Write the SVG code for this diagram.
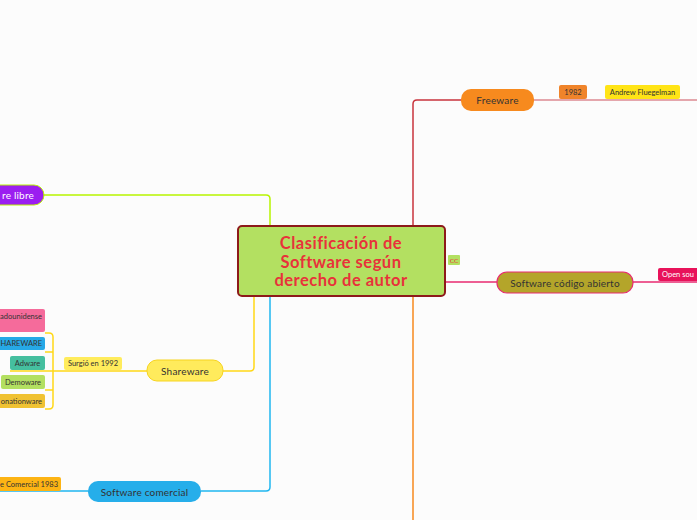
<svg xmlns="http://www.w3.org/2000/svg" width="697" height="520" viewBox="0 0 697 520">
<style>
.t{font-family:Lato,"Open Sans","Liberation Sans",sans-serif;fill:#333;text-anchor:middle;dominant-baseline:central}
.n{font-size:10px;letter-spacing:0.2px}
.s{font-size:7.5px}
.c{fill:none;stroke-width:1.5;stroke-linejoin:round}
.h{font-size:16.5px;font-weight:bold;fill:#e8323a;letter-spacing:0.5px}
</style>
<rect width="697" height="520" fill="#fcfcfc"/>
<g id="connectors">
<path class="c" stroke="#c8333c" d="M413 226 V104 Q413 100 417 100 H461"/>
<path class="c" stroke="#dc8a92" d="M534 100 H697"/>
<path class="c" stroke="#b7f400" d="M44 195 H266 Q270 195 270 199 V226"/>
<path class="c" stroke="#ffd817" d="M254 296 V367 Q254 371 250 371 H223"/>
<path class="c" stroke="#ffd817" d="M147 371 H10"/>
<path class="c" stroke="#ffd817" d="M45 333 H49 Q53 333 53 337 V405 Q53 409 49 409 H45"/>
<path class="c" stroke="#ffd817" d="M45 352 H53 M45 390 H53"/>
<path class="c" stroke="#1fb6f0" d="M270 296 V487 Q270 491 266 491 H201"/>
<path class="c" stroke="#1fb6f0" d="M88 491 H0"/>
<path class="c" stroke="#e82a70" d="M445 282 H497"/>
<path class="c" stroke="#e82a70" d="M633 282 H697"/>
<path class="c" stroke="#f78a1e" d="M413 296 V520"/>
</g>
<g id="central">
<rect x="238" y="226" width="207" height="70" rx="4" fill="#b3e061" stroke="#8d1a1a" stroke-width="2"/>
<text class="t h" x="341" y="243">Clasificación de</text>
<text class="t h" x="341" y="261.5">Software según</text>
<text class="t h" x="341" y="280">derecho de autor</text>
</g>
<g id="cc">
<rect x="448" y="255" width="12" height="10" rx="1" fill="#b3e061"/>
<text class="t" x="454" y="260" style="fill:#e8323a;font-size:6.5px">CC</text>
</g>
<g id="freeware">
<rect x="461" y="89" width="73" height="22" rx="10" fill="#f78a1e"/>
<text class="t n" x="497.5" y="100">Freeware</text>
</g>
<g id="l1982">
<rect x="559" y="85" width="28" height="14" rx="2" fill="#f0842a"/>
<text class="t s" x="573" y="92">1982</text>
</g>
<g id="andrew">
<rect x="605" y="85" width="75" height="14" rx="2" fill="#ffe416"/>
<text class="t s" x="642.5" y="92">Andrew Fluegelman</text>
</g>
<g id="libre">
<rect x="-60" y="185" width="104" height="20" rx="10" fill="#9b1ef0" stroke="#b7f400" stroke-width="1"/>
<text class="t n" x="34" y="195" style="fill:#fff;text-anchor:end">re libre</text>
</g>
<g id="codigo">
<rect x="497" y="272" width="136" height="21" rx="10" fill="#b4a52a" stroke="#e82a70" stroke-width="1.2"/>
<text class="t n" x="565" y="282.5">Software código abierto</text>
</g>
<g id="opensource">
<rect x="658" y="268" width="60" height="13" rx="2" fill="#e8125a"/>
<text class="t s" x="662" y="274.5" style="fill:#fff;text-anchor:start">Open sou</text>
</g>
<g id="shareware">
<rect x="147" y="360" width="76" height="21" rx="10" fill="#ffeb5c" stroke="#f7d41e" stroke-width="1"/>
<text class="t n" x="185" y="370.5">Shareware</text>
</g>
<g id="surgio">
<rect x="64" y="357" width="58" height="13" rx="2" fill="#ffec5c"/>
<text class="t s" x="93" y="363.5">Surgió en 1992</text>
</g>
<g id="estadounidense">
<rect x="-10" y="309" width="55" height="23" rx="2" fill="#f56b9b"/>
<text class="t s" x="42" y="316" style="text-anchor:end">adounidense</text>
</g>
<g id="sharewareLbl">
<rect x="-10" y="337" width="55" height="13" rx="2" fill="#26a8e6"/>
<text class="t s" x="42" y="343.5" style="text-anchor:end">HAREWARE</text>
</g>
<g id="adware">
<rect x="10" y="356" width="35" height="14" rx="2" fill="#45bf9f"/>
<text class="t s" x="27.5" y="363">Adware</text>
</g>
<g id="demoware">
<rect x="1" y="375" width="44" height="14" rx="2" fill="#b3e061"/>
<text class="t s" x="23" y="382">Demoware</text>
</g>
<g id="donationware">
<rect x="-10" y="394" width="55" height="14" rx="2" fill="#f0c232"/>
<text class="t s" x="42" y="401" style="text-anchor:end">onationware</text>
</g>
<g id="comercial">
<rect x="88" y="481" width="113" height="21" rx="10" fill="#26aeea"/>
<text class="t n" x="144.5" y="491.5">Software comercial</text>
</g>
<g id="comercial1983">
<rect x="-40" y="477" width="101" height="14" rx="2" fill="#fdb414"/>
<text class="t s" x="58" y="484" style="text-anchor:end">e Comercial 1983</text>
</g>
</svg>
